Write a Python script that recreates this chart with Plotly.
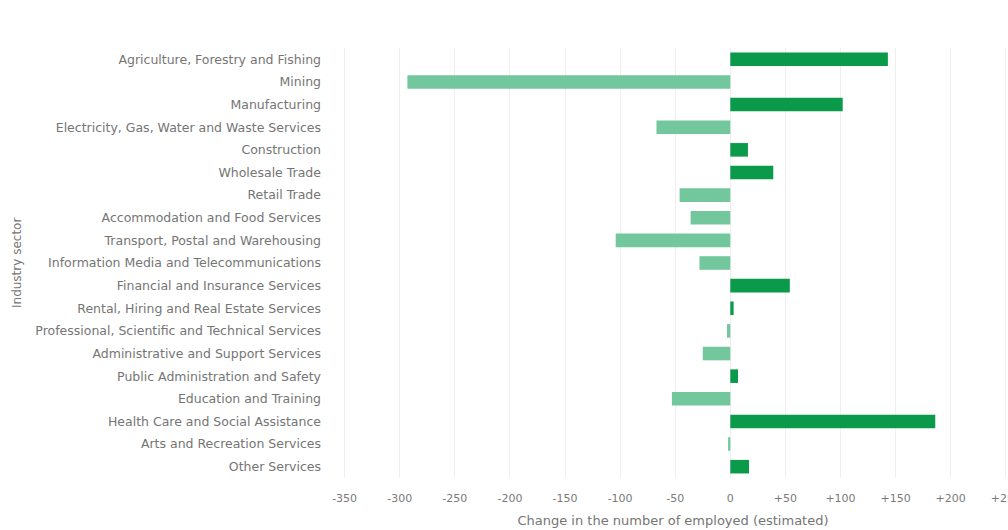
import plotly.graph_objects as go

# Industry sectors, top to bottom
sectors = [
    "Agriculture, Forestry and Fishing",
    "Mining",
    "Manufacturing",
    "Electricity, Gas, Water and Waste Services",
    "Construction",
    "Wholesale Trade",
    "Retail Trade",
    "Accommodation and Food Services",
    "Transport, Postal and Warehousing",
    "Information Media and Telecommunications",
    "Financial and Insurance Services",
    "Rental, Hiring and Real Estate Services",
    "Professional, Scientific and Technical Services",
    "Administrative and Support Services",
    "Public Administration and Safety",
    "Education and Training",
    "Health Care and Social Assistance",
    "Arts and Recreation Services",
    "Other Services",
]

# Estimated change in the number of employed
change = [143, -293, 102, -67, 16, 39, -46, -36, -104, -28,
          54, 3, -3, -25, 7, -53, 186, -2, 17]

tick_values = [-350, -300, -250, -200, -150, -100, -50, 0, 50, 100, 150, 200, 250]
tick_labels = ["-350", "-300", "-250", "-200", "-150", "-100", "-50", "0",
               "+50", "+100", "+150", "+200", "+250"]

POS_COLOR = "#0b9a4a"
NEG_COLOR = "#72c79c"
bar_colors = [POS_COLOR if v >= 0 else NEG_COLOR for v in change]

fig = go.Figure(
    go.Bar(
        x=change,
        y=sectors,
        orientation="h",
        marker=dict(color=bar_colors, line=dict(width=0)),
        width=0.6,
        hovertemplate="%{y}: %{x}<extra></extra>",
    )
)

font_family = "DejaVu Sans, Verdana, sans-serif"
text_color = "#757575"

LEFT, RIGHT = 338, 0
plot_w = 1008 - LEFT - RIGHT

fig.update_layout(
    width=1008,
    height=530,
    margin=dict(l=LEFT, r=RIGHT, t=48, b=52),
    paper_bgcolor="white",
    plot_bgcolor="white",
    font=dict(family=font_family, size=11, color=text_color),
    showlegend=False,
    bargap=0.4,
    annotations=[
        dict(
            text="Industry sector",
            xref="paper", yref="paper",
            x=(17 - LEFT) / plot_w, y=0.5,
            xanchor="center", yanchor="middle",
            textangle=-90, showarrow=False,
            font=dict(size=12, color=text_color),
        )
    ],
)

fig.update_xaxes(
    range=[-356, 252],
    tickvals=tick_values,
    ticktext=tick_labels,
    showgrid=True,
    gridcolor="#efefef",
    gridwidth=1,
    zeroline=False,
    showline=False,
    ticks="",
    ticklabelstandoff=12,
    ticklabeloverflow="allow",
    tickfont=dict(size=11, color="#7a7a7a"),
    title=dict(
        text="Change in the number of employed (estimated)",
        font=dict(size=13, color=text_color),
        standoff=11,
    ),
    automargin=False,
)

fig.update_yaxes(
    autorange="reversed",
    showgrid=False,
    zeroline=False,
    showline=False,
    ticks="",
    ticklabelstandoff=16,
    tickfont=dict(size=12.5, color=text_color),
    automargin=False,
)

fig.write_html("out.html")
